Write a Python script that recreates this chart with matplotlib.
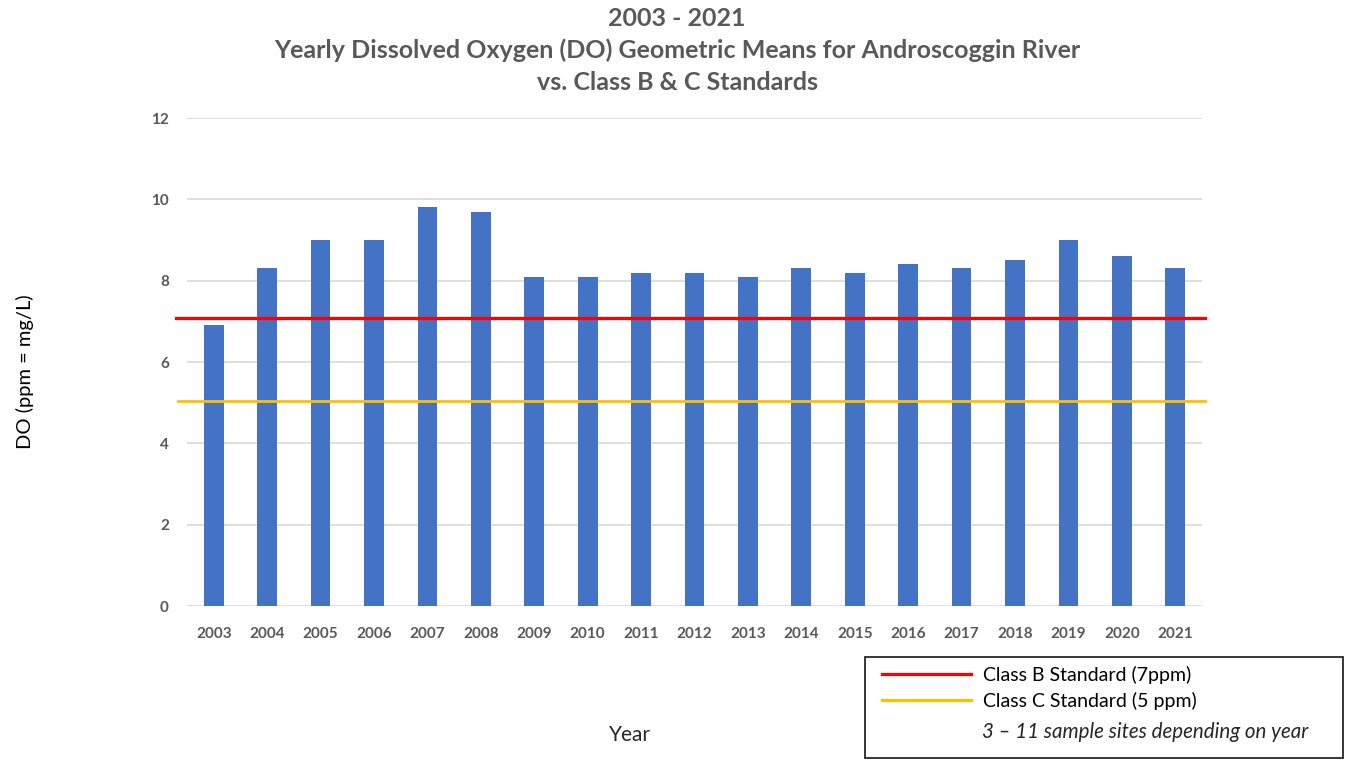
import numpy as np
import matplotlib
matplotlib.use('Agg')
import matplotlib.pyplot as plt
from matplotlib.lines import Line2D
from matplotlib.patches import Rectangle
from matplotlib.ticker import MultipleLocator

# yearly DO geometric means
years = ['2003', '2004', '2005', '2006', '2007', '2008', '2009', '2010', '2011', '2012',
         '2013', '2014', '2015', '2016', '2017', '2018', '2019', '2020', '2021']
do_means = [6.9, 8.3, 9.0, 9.0, 9.8, 9.7, 8.1, 8.1, 8.2, 8.2,
            8.1, 8.3, 8.2, 8.4, 8.3, 8.5, 9.0, 8.6, 8.3]
class_b = 7.07
class_c = 5.03
legend_labels = ['Class B Standard (7ppm)', 'Class C Standard (5 ppm)']
note = '3 \u2013 11 sample sites depending on year'
title_lines = ['2003 - 2021',
               'Yearly Dissolved Oxygen (DO) Geometric Means for Androscoggin River',
               'vs. Class B & C Standards']

plt.rcParams['font.family'] = ['Lato', 'DejaVu Sans']

fig = plt.figure(figsize=(13.48, 7.61), dpi=100)
W, H = 1348, 761
ax = fig.add_axes([187 / W, 1 - 606 / H, (1202 - 187) / W, (606 - 118) / H])

x = np.arange(len(years))
ax.bar(x, do_means, width=0.37, color='#4472C4', zorder=2)

# standard lines run a little past the plot area
ax.plot([-0.011, 1.003], [class_b, class_b], transform=ax.get_yaxis_transform(),
        color='#FF0000', lw=2.3, clip_on=False, zorder=3)
ax.plot([-0.009, 1.003], [class_c, class_c], transform=ax.get_yaxis_transform(),
        color='#FFC000', lw=2.0, clip_on=False, zorder=3)

ax.set_xlim(-0.5, len(years) - 0.5)
ax.set_ylim(0, 12)
ax.yaxis.set_major_locator(MultipleLocator(2))
ax.set_xticks(x)
ax.set_xticklabels(years)
ax.grid(True, axis='y', color='#D9D9D9', lw=1.2, zorder=0)
for s in ax.spines.values():
    s.set_visible(False)
ax.tick_params(length=0, labelsize=11, labelcolor='#595959', pad=15)
ax.tick_params(axis='y', pad=13)
for lab in ax.get_xticklabels() + ax.get_yticklabels():
    lab.set_fontweight('bold')

fig.text(25 / W, 1 - 372 / H, 'DO (ppm = mg/L)', rotation=90, ha='center', va='center',
         fontsize=14.5, color='black')
fig.text(630 / W, 1 - 735 / H, 'Year', ha='center', va='center', fontsize=15, color='#262626')

for t, yy in zip(title_lines, [18, 50, 83]):
    fig.text(677 / W, 1 - yy / H, t, ha='center', va='center', fontsize=18,
             fontweight='bold', color='#595959')

# legend box
fig.patches.append(Rectangle((865 / W, 1 - 758 / H), (1343 - 865) / W, (758 - 657) / H,
                             transform=fig.transFigure, fill=False, ec='#262626', lw=1.3))
handles = [Line2D([], [], color='#FF0000', lw=2.3),
           Line2D([], [], color='#FFC000', lw=2.3)]
leg = fig.legend(handles, legend_labels, loc='upper left',
                 bbox_to_anchor=(882 / W, 1 - 666 / H), frameon=False, fontsize=14,
                 handlelength=4.6, handletextpad=0.6, labelspacing=0.4,
                 borderpad=0, borderaxespad=0)
fig.text(982 / W, 1 - 732 / H, note, ha='left', va='center', fontsize=14.8,
         fontstyle='italic', color='#262626')

fig.savefig('out.png', dpi=100)
